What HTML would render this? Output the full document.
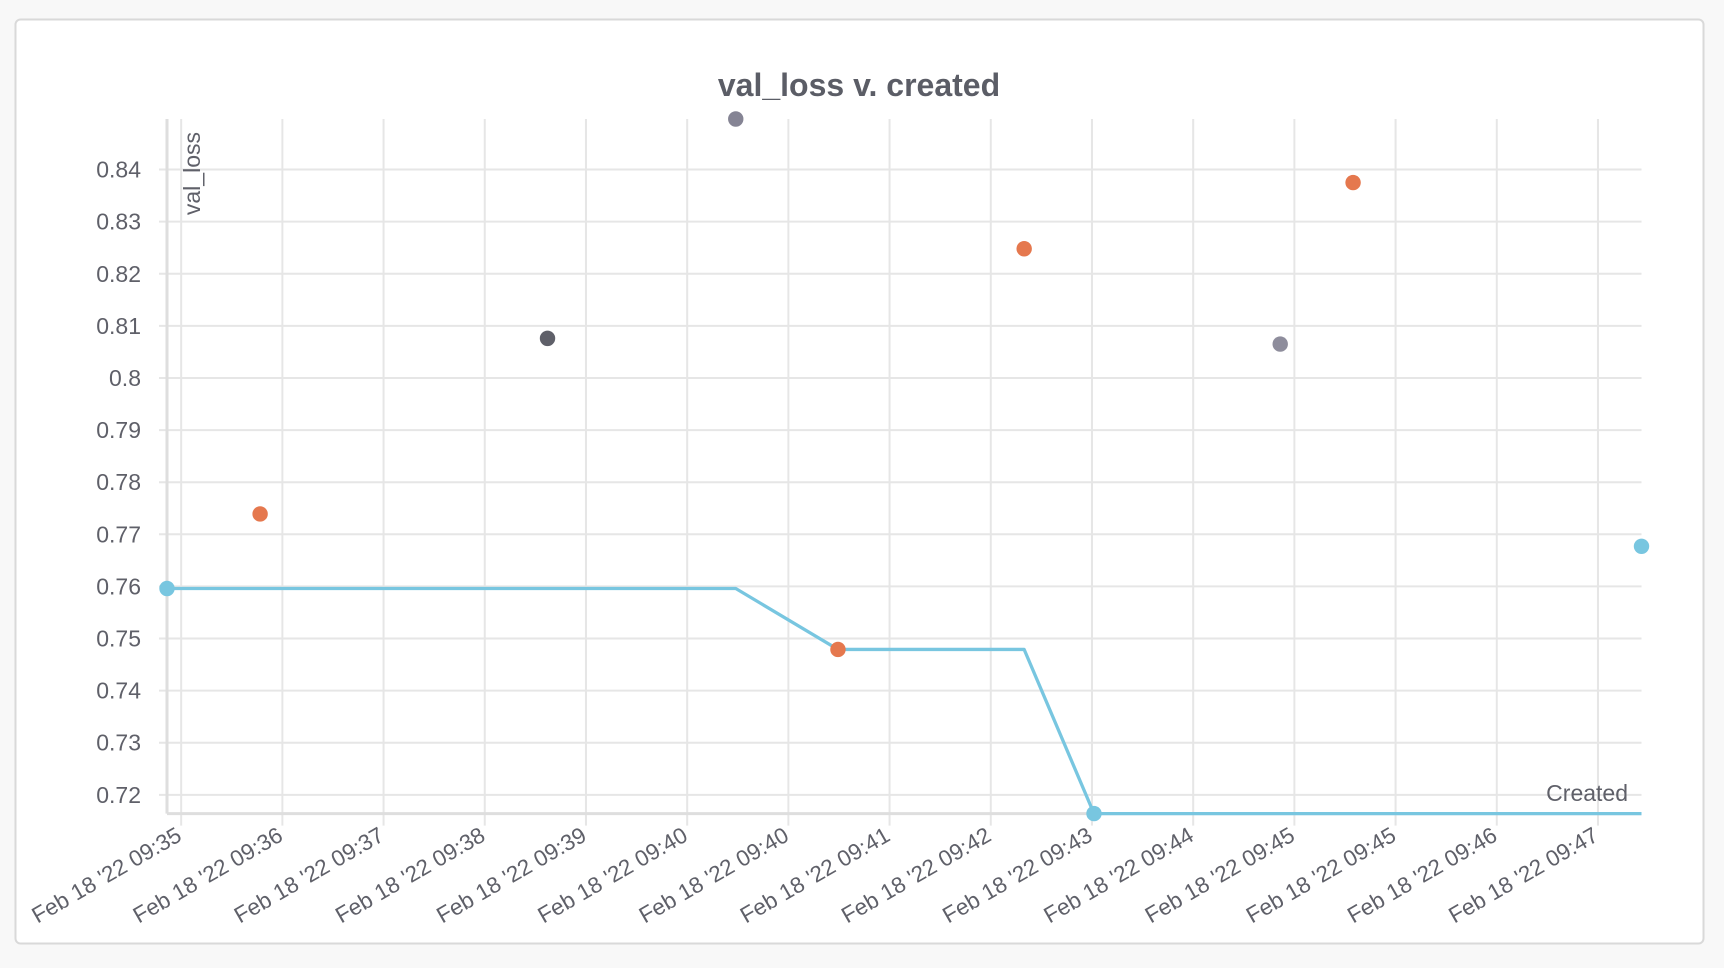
<!DOCTYPE html>
<html><head><meta charset="utf-8"><style>
html,body{margin:0;padding:0;background:#f8f8f8;width:1724px;height:968px;overflow:hidden}
svg{display:block;font-family:"Liberation Sans",sans-serif}
</style></head><body>
<svg id="chart" width="1724" height="968">
<defs><clipPath id="cardclip"><rect x="16" y="20" width="1687" height="923" rx="4"/></clipPath></defs>
<rect x="15.5" y="19.5" width="1688" height="924" rx="5" fill="#fff" stroke="#d9d9d9" stroke-width="2"/>
<text x="859" y="96" text-anchor="middle" font-size="32" font-weight="bold" fill="#5b5d66">val_loss v. created</text>
<g id="grid" clip-path="url(#cardclip)"></g>
<g id="marks"></g>
</svg>
<script>
// data (x in tick units: 0 = first tick label)
const xTickLabels = ["Feb 18 '22 09:35","Feb 18 '22 09:36","Feb 18 '22 09:37","Feb 18 '22 09:38","Feb 18 '22 09:39","Feb 18 '22 09:40","Feb 18 '22 09:40","Feb 18 '22 09:41","Feb 18 '22 09:42","Feb 18 '22 09:43","Feb 18 '22 09:44","Feb 18 '22 09:45","Feb 18 '22 09:45","Feb 18 '22 09:46","Feb 18 '22 09:47"];
const yTickValues = [0.72,0.73,0.74,0.75,0.76,0.77,0.78,0.79,0.80,0.81,0.82,0.83,0.84];
const yTickLabels = ["0.72","0.73","0.74","0.75","0.76","0.77","0.78","0.79","0.8","0.81","0.82","0.83","0.84"];
const pointX = [-0.14,0.78,3.62,5.48,6.49,8.33,9.02,10.86,11.58,14.43];
const pointY = [0.7596,0.7739,0.8076,0.8497,0.7479,0.8248,0.7164,0.8065,0.8375,0.7677];
const pointColor = ["#78c6e0","#e5784e","#5f6069","#858494","#e5784e","#e5784e","#78c6e0","#8e8d9c","#e5784e","#78c6e0"];

const NS="http://www.w3.org/2000/svg";
const L=167, R=1641.5, T=119, B=813.6;
const xMin=-0.14, xMax=14.43;
const yMin=Math.min(...pointY), yMax=Math.max(...pointY);
const xs=v=>L+(v-xMin)/(xMax-xMin)*(R-L);
const ys=v=>B-(v-yMin)/(yMax-yMin)*(B-T);
function mk(tag,attrs,parent){const e=document.createElementNS(NS,tag);for(const k in attrs)e.setAttribute(k,attrs[k]);parent.appendChild(e);return e;}
const grid=document.getElementById('grid'), marks=document.getElementById('marks');

yTickValues.forEach((v,i)=>{
  const y=ys(v);
  const g=mk('line',{x1:159,x2:R,y1:y,y2:y,stroke:'#e6e6e6','stroke-width':2},grid);
  
  
  const t=mk('text',{x:141,y:y+8,'text-anchor':'end','font-size':23,fill:'#5f6069'},grid);
  t.textContent=yTickLabels[i];
  
  
});
xTickLabels.forEach((lab,i)=>{
  const x=xs(i);
  const g=mk('line',{x1:x,x2:x,y1:T,y2:B+12,stroke:'#e6e6e6','stroke-width':2},grid);
  
  
  const t=mk('text',{x:x+2,y:B+26,'text-anchor':'end','font-size':22.5,fill:'#5f6069',transform:`rotate(-30 ${x+2} ${B+26})`},grid);
  t.textContent=lab;
  
  
});
const ax=mk('line',{x1:L,x2:L,y1:T,y2:B,stroke:'#dedede','stroke-width':3},grid);


const bx=mk('line',{x1:L,x2:R,y1:B,y2:B,stroke:'#dedede','stroke-width':3},grid);


const yt=mk('text',{x:200,y:132,'text-anchor':'end','font-size':23,fill:'#5f6069',transform:'rotate(-90 200 132)'},grid);
yt.textContent='val_loss';


const xt=mk('text',{x:1628,y:801,'text-anchor':'end','font-size':23,fill:'#5f6069'},grid);
xt.textContent='Created';



// running-min line
const idx=pointX.map((_,i)=>i).sort((a,b)=>pointX[a]-pointX[b]);
let m=Infinity, pts=[];
idx.forEach(i=>{m=Math.min(m,pointY[i]);pts.push(xs(pointX[i])+','+ys(m));});
pts.push(R+','+ys(m));
const pl=mk('polyline',{points:pts.join(' '),fill:'none',stroke:'#78c6e0','stroke-width':3.3,'stroke-linejoin':'round'},marks);



pointX.forEach((v,i)=>{
  const c=mk('circle',{cx:xs(v),cy:ys(pointY[i]),r:7.7,fill:pointColor[i]},marks);
  
  
});
</script>
</body></html>
